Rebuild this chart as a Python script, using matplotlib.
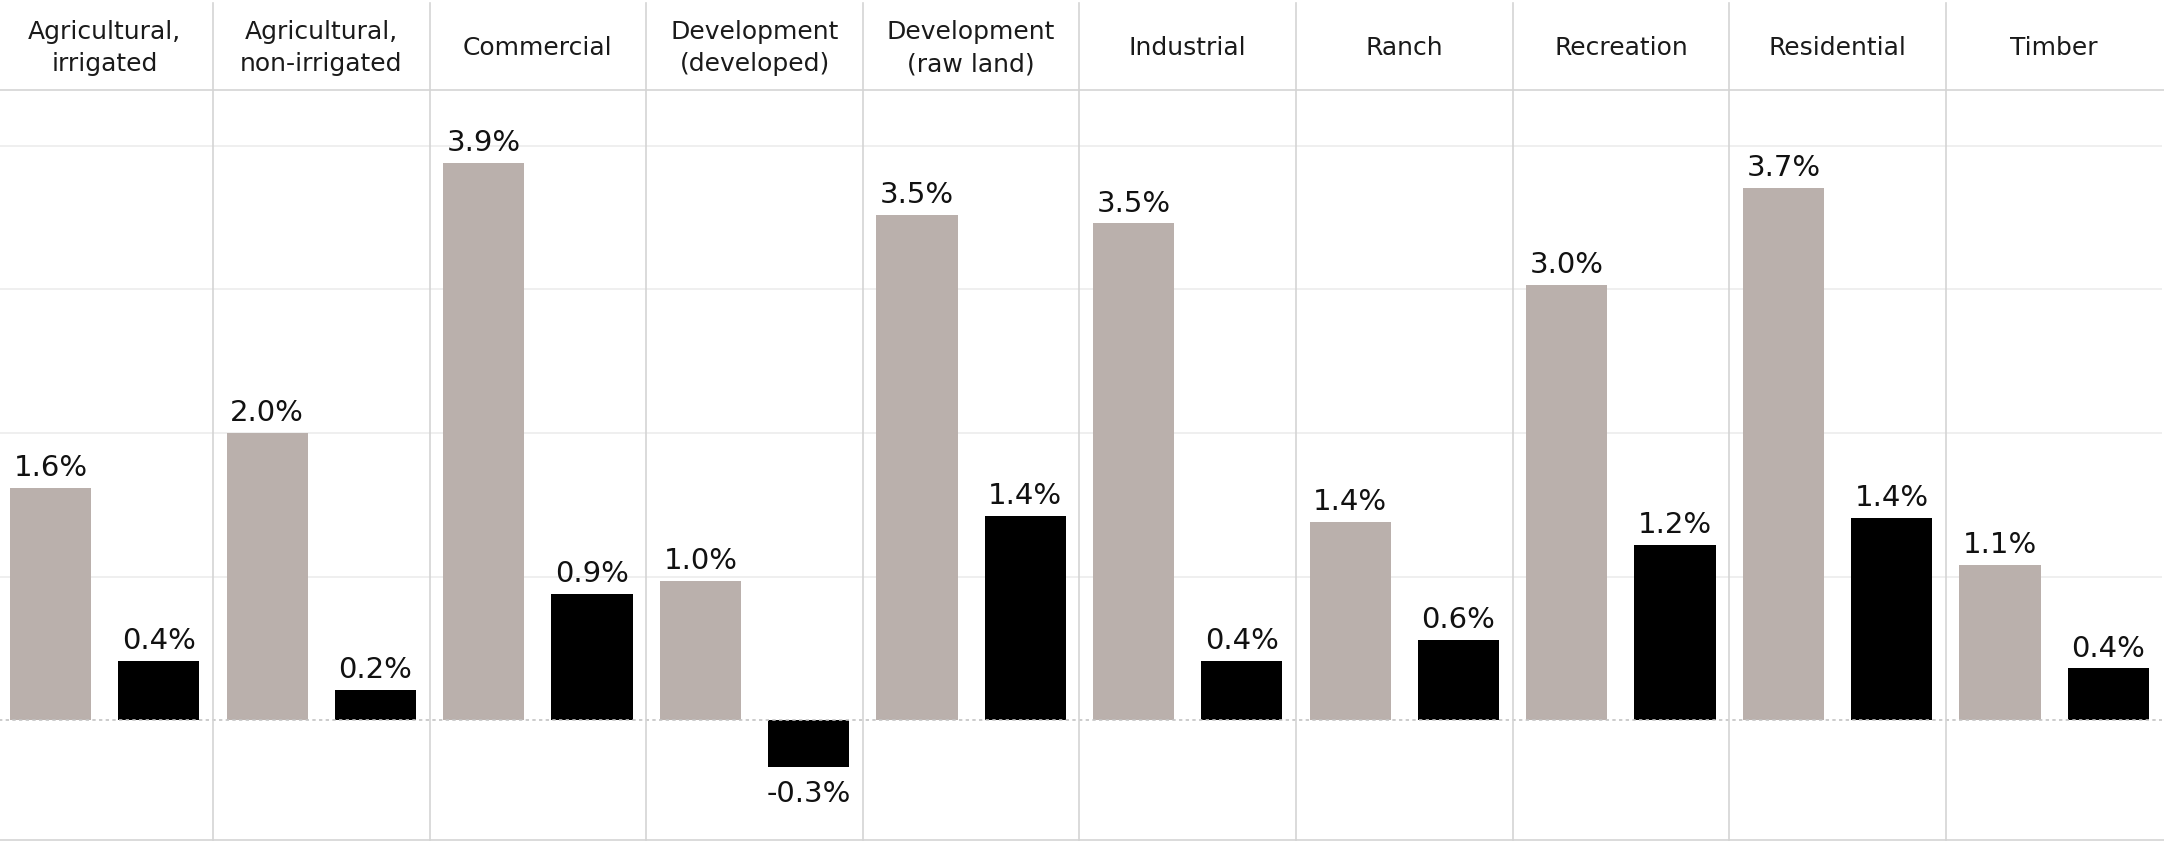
import matplotlib.pyplot as plt
from matplotlib.lines import Line2D
import numpy as np

# categories and values (% change)
categories = ['Agricultural,\nirrigated', 'Agricultural,\nnon-irrigated', 'Commercial',
              'Development\n(developed)', 'Development\n(raw land)', 'Industrial',
              'Ranch', 'Recreation', 'Residential', 'Timber']
grey_values = [1.62, 2.0, 3.88, 0.97, 3.52, 3.46, 1.38, 3.03, 3.71, 1.08]
black_values = [0.41, 0.21, 0.88, -0.33, 1.42, 0.41, 0.56, 1.22, 1.41, 0.36]

grey_color = '#bab0ac'
black_color = '#000000'

W, H = 2164, 841
fig = plt.figure(figsize=(W / 100, H / 100), dpi=100)

panel_w = 216.6
left_px = -3.6
header_px = 90
bottom_px = 840

ax = fig.add_axes([left_px / W, (H - bottom_px) / H,
                   10 * panel_w / W, (bottom_px - header_px) / H])
n = len(categories)
x = np.arange(n) * 2
ax.bar(x + 0.5, grey_values, width=0.75, color=grey_color, zorder=3)
ax.bar(x + 1.5, black_values, width=0.75, color=black_color, zorder=3)

ax.set_xlim(0, 2 * n)
ax.set_ylim(-0.836, 4.39)
for g in [1, 2, 3, 4]:
    ax.axhline(g, color='#ececec', lw=1.2, zorder=1)
ax.axhline(0, color='#c4c4c4', lw=1.2, ls=(0, (2, 2)), zorder=4)

for xi, v in zip(x + 0.5, grey_values):
    ax.annotate(f'{v:.1f}%', (xi, v), xytext=(0, 8.5), textcoords='offset points',
                ha='center', va='baseline', fontsize=21, color='#111111')
for xi, v in zip(x + 1.5, black_values):
    if v >= 0:
        ax.annotate(f'{v:.1f}%', (xi, v), xytext=(0, 8.5), textcoords='offset points',
                    ha='center', va='baseline', fontsize=21, color='#111111')
    else:
        ax.annotate(f'{v:.1f}%', (xi, v), xytext=(0, -9), textcoords='offset points',
                    ha='center', va='top', fontsize=21, color='#111111')

ax.set_xticks([])
ax.set_yticks([])
for s in ax.spines.values():
    s.set_visible(False)

# header labels
for i, cat in enumerate(categories):
    cx = (left_px + panel_w * (i + 0.5)) / W
    fig.text(cx, 1 - 48 / H, cat, ha='center', va='center', fontsize=18,
             color='#1a1a1a', linespacing=1.45)

# frame lines
line_c = '#d4d4d4'
for i in range(1, n):
    xp = (left_px + panel_w * i) / W
    fig.add_artist(Line2D([xp, xp], [0, 1 - 3 / H], color=line_c, lw=1.2))
fig.add_artist(Line2D([0, 1], [1 - header_px / H] * 2, color=line_c, lw=1.2))
fig.add_artist(Line2D([0, 1], [1 - bottom_px / H] * 2, color=line_c, lw=1.2))

fig.savefig('out.png', dpi=100)
